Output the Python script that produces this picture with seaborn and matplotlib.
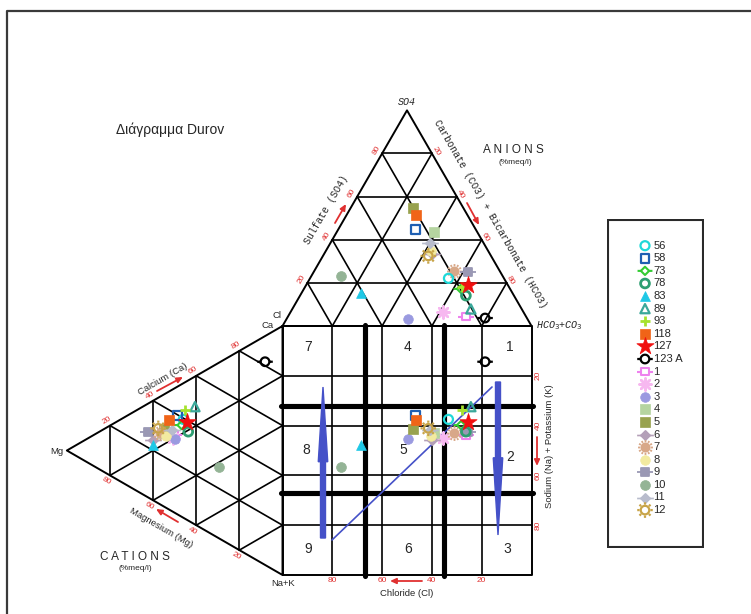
import numpy as np
import matplotlib
matplotlib.use("Agg")
import matplotlib.pyplot as plt
from matplotlib.path import Path
from matplotlib.markers import MarkerStyle
from matplotlib.lines import Line2D
from matplotlib.patches import FancyArrow, Rectangle
import seaborn as sns

sns.set_style("white")
plt.rcParams["font.family"] = ["Liberation Sans", "DejaVu Sans"]

# ---------------------------------------------------------------- data (%meq/l)
samples = ["56", "58", "73", "78", "83", "89", "93", "118", "127", "123 A",
           "1", "2", "3", "4", "5", "6", "7", "8", "9", "10", "11", "12"]
ca  = [39.5, 39.6, 36.8, 35.7, 22.2, 47.3, 43.7, 36.0, 39.5, 81.6,
       31.2, 29.6, 29.5, 29.0, 31.0, 24.2, 28.4, 29.0, 26.4, 28.9, 32.5, 30.1]
mg  = [46.0, 48.8, 46.8, 43.7, 59.9, 40.6, 45.2, 52.5, 44.2, 8.1,
       50.0, 51.0, 50.0, 56.0, 55.0, 60.0, 57.0, 54.0, 62.2, 29.3, 51.4, 57.6]
cl  = [22.3, 24.1, 19.7, 19.3, 60.9, 20.4, 18.9, 20.8, 16.1, 16.8,
       24.2, 32.2, 48.0, 17.3, 20.4, 23.3, 18.2, 23.0, 13.0, 64.9, 21.6, 25.2]
so4 = [22.1, 44.9, 17.2, 14.1, 15.2, 7.9, 18.1, 51.5, 19.2, 3.7,
       4.3, 6.6, 3.2, 43.7, 54.6, 33.4, 25.5, 35.0, 25.0, 23.2, 38.4, 32.5]

colors = ["#1fd8d8", "#1f5fb2", "#33cc33", "#2e9e72", "#1ec8e6", "#3aa89a",
          "#a6e22e", "#f06418", "#f01010", "#000000",
          "#ee82ee", "#f7b8f0", "#9a9ae0", "#b5d4a0", "#98a24e", "#b4a0b8",
          "#d8a888", "#f2eaa0", "#9a98b4", "#94b496", "#b8bccc", "#c8a448"]

corner_ticks = [20, 40, 60, 80]

# ---------------------------------------------------------------- geometry
SIN60 = np.sqrt(3) / 2
S = 2.49            # pixels per percent unit
X0, Y0 = 282.5, 575.0   # pixel position of the square's lower-left corner
W, H = 751, 614


def T(px, py):
    """pixel position -> data position"""
    return (px - X0) / S, (Y0 - py) / S


def anion_xy(c, s, h):
    return h + s / 2.0, 100 + SIN60 * s


def cation_xy(c, m, n):
    return -SIN60 * m, c + m / 2.0


ca_a, mg_a = np.array(ca), np.array(mg)
cl_a, so4_a = np.array(cl), np.array(so4)
nak_a = 100 - ca_a - mg_a
hco3_a = 100 - cl_a - so4_a

an_x, an_y = anion_xy(cl_a, so4_a, hco3_a)
cat_x, cat_y = cation_xy(ca_a, mg_a, nak_a)
sq_x, sq_y = an_x, cat_y

# ---------------------------------------------------------------- markers
def poly_path(poly, stubs=0.0):
    verts = list(poly) + [poly[0]]
    codes = [Path.MOVETO] + [Path.LINETO] * (len(poly) - 1) + [Path.CLOSEPOLY]
    if stubs:
        verts += [(-stubs, 0), (-1, 0), (1, 0), (stubs, 0)]
        codes += [Path.MOVETO, Path.LINETO, Path.MOVETO, Path.LINETO]
    return Path(verts, codes)


_t = np.linspace(0, 2 * np.pi, 28, endpoint=False)
CIRCLE = [(np.cos(a), np.sin(a)) for a in _t]
SQUARE = [(-0.85, -0.85), (0.85, -0.85), (0.85, 0.85), (-0.85, 0.85)]
DIAMOND = [(0, -1), (1, 0), (0, 1), (-1, 0)]


def sun_path(n_rays=8):
    verts = [(0.55 * np.cos(a), 0.55 * np.sin(a)) for a in _t]
    verts.append(verts[0])
    codes = [Path.MOVETO] + [Path.LINETO] * (len(_t) - 1) + [Path.CLOSEPOLY]
    for a in np.linspace(0, 2 * np.pi, n_rays, endpoint=False):
        verts += [(0.72 * np.cos(a), 0.72 * np.sin(a)), (np.cos(a), np.sin(a))]
        codes += [Path.MOVETO, Path.LINETO]
    return Path(verts, codes)


m_circle_stub = MarkerStyle(poly_path(CIRCLE, 1.8))
m_square_stub = MarkerStyle(poly_path(SQUARE, 1.8))
m_diamond_stub = MarkerStyle(poly_path(DIAMOND, 1.8))
m_sun = MarkerStyle(sun_path(8))
m_sun12 = MarkerStyle(sun_path(12))

# marker, size, filled?, linewidth, legend stub line?
styles = {
    "56":    ("o", 42, False, 1.6, False),
    "58":    ("s", 40, False, 1.6, False),
    "73":    (m_diamond_stub, 115, False, 1.5, True),
    "78":    ("o", 40, False, 2.0, False),
    "83":    ("^", 50, True, 0.5, False),
    "89":    ("^", 44, False, 1.6, False),
    "93":    ("+", 60, False, 2.0, False),
    "118":   ("s", 48, True, 0.5, False),
    "127":   ("*", 170, True, 0.5, False),
    "123 A": (m_circle_stub, 125, False, 1.6, True),
    "1":     (m_square_stub, 125, False, 1.5, True),
    "2":     ((8, 2, 0), 75, False, 1.8, False),
    "3":     ("o", 48, True, 0.5, False),
    "4":     ("s", 50, True, 0.5, False),
    "5":     ("s", 50, True, 0.5, False),
    "6":     (m_diamond_stub, 145, True, 1.2, True),
    "7":     (m_sun12, 115, True, 1.3, False),
    "8":     ("o", 48, True, 0.5, False),
    "9":     (m_square_stub, 135, True, 1.3, True),
    "10":    ("o", 50, True, 0.5, False),
    "11":    (m_diamond_stub, 145, True, 1.2, True),
    "12":    (m_sun, 125, False, 1.6, False),
}

# ---------------------------------------------------------------- figure
fig = plt.figure(figsize=(W / 100, H / 100), dpi=100)
ax = fig.add_axes([0, 0, 1, 1])
ax.set_xlim(-X0 / S, (W - X0) / S)
ax.set_ylim(-(H - Y0) / S, Y0 / S)
ax.set_aspect("equal")
ax.axis("off")

# outer frame
fig.add_artist(Line2D([7 / W, 7 / W, 1.0], [0, 1 - 11 / H, 1 - 11 / H],
                      transform=fig.transFigure, color="#3a3a3a", lw=1.6))

LW = 1.2
K = "black"

# square with thin 20 % grid
ax.plot([0, 100, 100, 0, 0], [0, 0, 100, 100, 0], color=K, lw=1.4, zorder=2)
for k in corner_ticks:
    ax.plot([k, k], [0, 100], color=K, lw=LW, zorder=2)
    ax.plot([0, 100], [k, k], color=K, lw=LW, zorder=2)
# heavy field boundaries
for v in (33.0, 65.0):
    ax.plot([v, v], [-0.6, 100.6], color=K, lw=3.7, solid_capstyle="round", zorder=3)
for h in (33.0, 67.8):
    ax.plot([-0.6, 100.6], [h, h], color=K, lw=3.7, solid_capstyle="round", zorder=3)

# anion triangle
tri = [anion_xy(100, 0, 0), anion_xy(0, 0, 100), anion_xy(0, 100, 0), anion_xy(100, 0, 0)]
ax.plot(*zip(*tri), color=K, lw=1.4, zorder=2)
for k in corner_ticks:
    for a, b in [(anion_xy(100 - k, k, 0), anion_xy(0, k, 100 - k)),
                 (anion_xy(100 - k, 0, k), anion_xy(0, 100 - k, k)),
                 (anion_xy(k, 0, 100 - k), anion_xy(k, 100 - k, 0))]:
        ax.plot([a[0], b[0]], [a[1], b[1]], color=K, lw=LW, zorder=2)

# cation triangle
tri = [cation_xy(100, 0, 0), cation_xy(0, 100, 0), cation_xy(0, 0, 100), cation_xy(100, 0, 0)]
ax.plot(*zip(*tri), color=K, lw=1.4, zorder=2)
for k in corner_ticks:
    for a, b in [(cation_xy(k, 100 - k, 0), cation_xy(k, 0, 100 - k)),
                 (cation_xy(100 - k, k, 0), cation_xy(0, k, 100 - k)),
                 (cation_xy(100 - k, 0, k), cation_xy(0, 100 - k, k))]:
        ax.plot([a[0], b[0]], [a[1], b[1]], color=K, lw=LW, zorder=2)

# field numbers
field_pos = {"7": (308, 347), "4": (407, 347), "1": (510, 347),
             "8": (306, 450), "5": (403, 450), "2": (510, 457),
             "9": (308, 549), "6": (408, 549), "3": (507, 549)}
for lab, (px, py) in field_pos.items():
    ax.text(*T(px, py), lab, fontsize=10, ha="center", va="center", zorder=4)

# blue trend arrows and line
BLUE = "#4551c8"
ax.plot(*zip(T(332, 540), T(492, 387)), color=BLUE, lw=1.2, zorder=4)
x1, y1 = T(323, 538)
x2, y2 = T(323, 387)
ax.add_patch(FancyArrow(x1, y1, 0, y2 - y1, width=2.0, head_width=3.8, head_length=30,
                        length_includes_head=True, color=BLUE, zorder=4))
x1, y1 = T(498, 382)
x2, y2 = T(498, 535)
ax.add_patch(FancyArrow(x1, y1, 0, y2 - y1, width=2.0, head_width=3.8, head_length=31,
                        length_includes_head=True, color=BLUE, zorder=4))

# ---------------------------------------------------------------- tick labels
RED = "#e03030"
tk = dict(fontsize=6, color=RED, ha="center", va="center")
off = 6.5 / S
for k in corner_ticks:
    x, y = anion_xy(100 - k, k, 0)
    ax.text(x - off * SIN60, y + off * 0.5, str(k), rotation=60, **tk)
    x, y = anion_xy(0, 100 - k, k)
    ax.text(x + off * SIN60 * 0.7, y + off * 0.5 * 0.7, str(k), rotation=-60, **tk)
    x, y = cation_xy(k, 100 - k, 0)
    ax.text(x - off * 0.5, y + off * SIN60, str(k), rotation=30, **tk)
    x, y = cation_xy(0, k, 100 - k)
    ax.text(x - off * 0.5, y - off * SIN60, str(k), rotation=-30, **tk)
    ax.text(100 - k, T(0, 581)[1], str(k), **tk)
    ax.text(T(538, 0)[0], 100 - k, str(k), rotation=90, **tk)


def red_arrow(p0, p1):
    ax.annotate("", xy=T(*p1), xytext=T(*p0),
                arrowprops=dict(arrowstyle="-|>,head_length=0.35,head_width=0.16",
                                color=RED, lw=1.3, shrinkA=0, shrinkB=0), zorder=4)


red_arrow((422, 581), (390, 581))
red_arrow((537, 437), (537, 466))
red_arrow((335, 223), (346, 204))
red_arrow((467, 203), (479, 225))
red_arrow((157, 391), (183, 377))
red_arrow((178, 522), (156, 509))

# ---------------------------------------------------------------- axis titles
mono = dict(family=["Liberation Mono", "DejaVu Sans Mono"], fontsize=7.2)
ax.text(*T(407, 102), "SO4", ha="center", va="center", style="italic", **mono)
ax.text(*T(536, 326), r"HCO$_3$+CO$_3$", ha="left", va="center", style="italic", **mono)
ax.text(*T(326, 210), "Sulfate (SO4)", rotation=60, ha="center", va="center", **mono)
ax.text(*T(490, 214), "Carbonate (CO3) + Bicarbonate (HCO3)", rotation=-60,
        ha="center", va="center", **mono)

sans = dict(fontsize=6.8, ha="center", va="center")
ax.text(*T(277, 316), "Cl", **sans)
ax.text(*T(268, 326), "Ca", **sans)
ax.text(*T(57, 451), "Mg", **sans)
ax.text(*T(283, 583), "Na+K", **sans)
ax.text(*T(407, 593), "Chloride (Cl)", **sans)
ax.text(*T(549, 446), "Sodium (Na) + Potassium (K)", rotation=90, **sans)
ax.text(*T(163, 379), "Calcium (Ca)", rotation=30, **sans)
ax.text(*T(161, 528), "Magnesium (Mg)", rotation=-30, **sans)

ax.text(*T(513, 150), "A N I O N S", fontsize=8.5, ha="center", va="center")
ax.text(*T(515, 163), "(%meq/l)", fontsize=6, ha="center", va="center")
ax.text(*T(135, 557), "C A T I O N S", fontsize=8.5, ha="center", va="center")
ax.text(*T(135, 568), "(%meq/l)", fontsize=6, ha="center", va="center")
ax.text(*T(170, 130), "Διάγραμμα Durov", fontsize=10, ha="center", va="center")

# ---------------------------------------------------------------- samples
def draw_sample(target, name, c, xs, ys, z):
    marker, size, filled, lw, _ = styles[name]
    mk = marker if isinstance(marker, MarkerStyle) else MarkerStyle(marker)
    if mk.is_filled():
        sns.scatterplot(x=xs, y=ys, ax=target, marker=marker, s=size, color=c,
                        facecolor=c if filled else "none", edgecolor=c,
                        linewidth=lw, legend=False, zorder=z)
    else:
        sns.scatterplot(x=xs, y=ys, ax=target, marker=marker, s=size, color=c,
                        edgecolor=None, linewidth=lw, legend=False, zorder=z)


draw_order = list(range(10, 22)) + list(range(0, 10))
for i in draw_order:
    draw_sample(ax, samples[i], colors[i],
                [an_x[i], cat_x[i], sq_x[i]], [an_y[i], cat_y[i], sq_y[i]], 6)

ax.set_xlim(-X0 / S, (W - X0) / S)
ax.set_ylim(-(H - Y0) / S, Y0 / S)

# ---------------------------------------------------------------- legend panel
L, Tp, R, B = 607, 219, 704, 548
lax = fig.add_axes([L / W, 1 - B / H, (R - L) / W, (B - Tp) / H])
lax.set_xlim(0, R - L)
lax.set_ylim(B - Tp, 0)
lax.axis("off")
lax.add_patch(Rectangle((0.8, 0.8), R - L - 1.6, B - Tp - 1.6, fill=False,
                        edgecolor="#2a2a2a", lw=1.5))
for j, name in enumerate(samples):
    yy = 26.7 + j * 12.59
    draw_sample(lax, name, colors[j], [38], [yy], 3)
    lax.text(46.5, yy, name, fontsize=8, ha="left", va="center")
lax.set_xlim(0, R - L)
lax.set_ylim(B - Tp, 0)

fig.savefig("out.png", dpi=100)
